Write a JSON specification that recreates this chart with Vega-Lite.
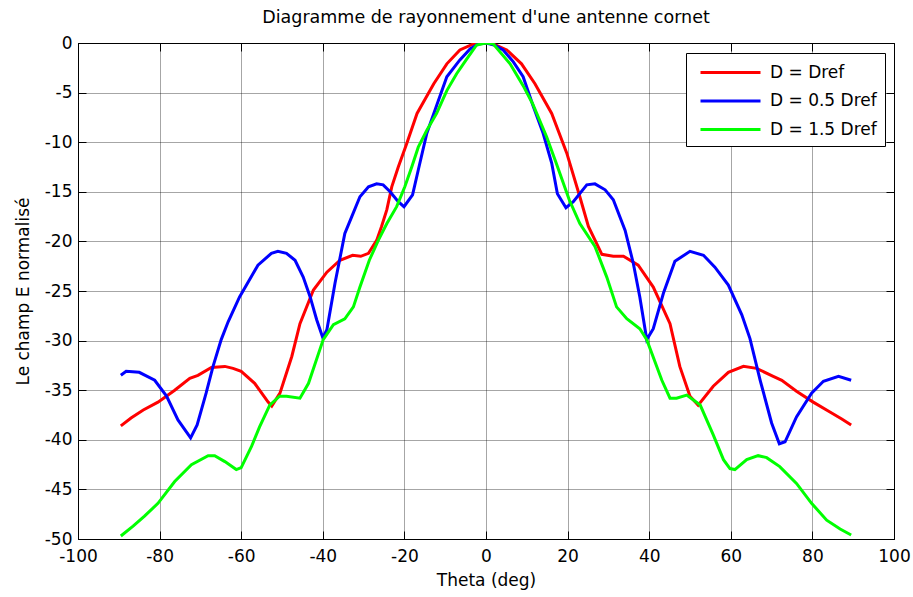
{
  "$schema": "https://vega.github.io/schema/vega-lite/v6.json",
  "autosize": {"type": "none"},
  "width": 816,
  "height": 496,
  "padding": {"left": 78, "top": 43, "right": 19, "bottom": 58},
  "background": "white",
  "title": {"text": "Diagramme de rayonnement d'une antenne cornet", "fontSize": 17.5, "font": "DejaVu Sans", "fontWeight": "normal", "color": "#000", "offset": 8, "anchor": "middle"},
  "config": {
    "view": {"stroke": "#000", "strokeWidth": 1},
    "axis": {"labelFont": "DejaVu Sans", "titleFont": "DejaVu Sans", "labelFontSize": 17, "titleFontSize": 17, "titleFontWeight": "normal", "labelColor": "#000", "titleColor": "#000", "domainColor": "#000", "tickColor": "#000", "gridColor": "#000", "gridDash": [1, 1], "gridOpacity": 0.7, "gridWidth": 1},
    "legend": {"labelFont": "DejaVu Sans"}
  },
  "data": {"values": [
    {"t": -89.5, "v": -38.6, "s": "D = Dref"}, {"t": -87, "v": -37.8, "s": "D = Dref"}, {"t": -84, "v": -37.0, "s": "D = Dref"}, {"t": -80.4, "v": -36.2, "s": "D = Dref"}, {"t": -76.3, "v": -35.0, "s": "D = Dref"}, {"t": -72.6, "v": -33.8, "s": "D = Dref"}, {"t": -70.6, "v": -33.5, "s": "D = Dref"}, {"t": -67.3, "v": -32.7, "s": "D = Dref"}, {"t": -64, "v": -32.6, "s": "D = Dref"}, {"t": -62, "v": -32.8, "s": "D = Dref"}, {"t": -60, "v": -33.1, "s": "D = Dref"}, {"t": -56.7, "v": -34.3, "s": "D = Dref"}, {"t": -53.4, "v": -36.2, "s": "D = Dref"}, {"t": -52.5, "v": -36.6, "s": "D = Dref"}, {"t": -50.5, "v": -35.3, "s": "D = Dref"}, {"t": -47.6, "v": -31.6, "s": "D = Dref"}, {"t": -45.6, "v": -28.3, "s": "D = Dref"}, {"t": -42.3, "v": -24.9, "s": "D = Dref"}, {"t": -39, "v": -23.1, "s": "D = Dref"}, {"t": -35.8, "v": -21.9, "s": "D = Dref"}, {"t": -32.7, "v": -21.4, "s": "D = Dref"}, {"t": -30.7, "v": -21.5, "s": "D = Dref"}, {"t": -28.8, "v": -21.2, "s": "D = Dref"}, {"t": -26.8, "v": -19.9, "s": "D = Dref"}, {"t": -25.6, "v": -18.5, "s": "D = Dref"}, {"t": -24.3, "v": -16.8, "s": "D = Dref"}, {"t": -23.1, "v": -14.5, "s": "D = Dref"}, {"t": -21.5, "v": -12.5, "s": "D = Dref"}, {"t": -19.4, "v": -10.1, "s": "D = Dref"}, {"t": -16.9, "v": -7.1, "s": "D = Dref"}, {"t": -12.8, "v": -4.1, "s": "D = Dref"}, {"t": -9.6, "v": -2.1, "s": "D = Dref"}, {"t": -6.4, "v": -0.7, "s": "D = Dref"}, {"t": -3.1, "v": -0.1, "s": "D = Dref"}, {"t": 0, "v": 0, "s": "D = Dref"}, {"t": 1.8, "v": -0.1, "s": "D = Dref"}, {"t": 5.1, "v": -0.7, "s": "D = Dref"}, {"t": 8.7, "v": -2.1, "s": "D = Dref"}, {"t": 12, "v": -4.1, "s": "D = Dref"}, {"t": 16.1, "v": -7.1, "s": "D = Dref"}, {"t": 19.8, "v": -11.1, "s": "D = Dref"}, {"t": 23, "v": -15.5, "s": "D = Dref"}, {"t": 25.1, "v": -18.5, "s": "D = Dref"}, {"t": 28.4, "v": -21.3, "s": "D = Dref"}, {"t": 31.2, "v": -21.5, "s": "D = Dref"}, {"t": 33.7, "v": -21.5, "s": "D = Dref"}, {"t": 37.3, "v": -22.4, "s": "D = Dref"}, {"t": 41, "v": -24.6, "s": "D = Dref"}, {"t": 45.1, "v": -28.3, "s": "D = Dref"}, {"t": 47.5, "v": -32.6, "s": "D = Dref"}, {"t": 50, "v": -35.6, "s": "D = Dref"}, {"t": 52, "v": -36.5, "s": "D = Dref"}, {"t": 55.7, "v": -34.6, "s": "D = Dref"}, {"t": 59.4, "v": -33.2, "s": "D = Dref"}, {"t": 63.1, "v": -32.6, "s": "D = Dref"}, {"t": 66.3, "v": -32.8, "s": "D = Dref"}, {"t": 70.4, "v": -33.6, "s": "D = Dref"}, {"t": 72.5, "v": -34.0, "s": "D = Dref"}, {"t": 76.1, "v": -35.1, "s": "D = Dref"}, {"t": 80.2, "v": -36.2, "s": "D = Dref"}, {"t": 84.3, "v": -37.2, "s": "D = Dref"}, {"t": 87.2, "v": -37.9, "s": "D = Dref"}, {"t": 89.5, "v": -38.5, "s": "D = Dref"},
    {"t": -89.5, "v": -33.5, "s": "D = 0.5 Dref"}, {"t": -88.2, "v": -33.1, "s": "D = 0.5 Dref"}, {"t": -85, "v": -33.2, "s": "D = 0.5 Dref"}, {"t": -81.2, "v": -34.0, "s": "D = 0.5 Dref"}, {"t": -78.3, "v": -35.6, "s": "D = 0.5 Dref"}, {"t": -75.5, "v": -38.0, "s": "D = 0.5 Dref"}, {"t": -72.4, "v": -39.8, "s": "D = 0.5 Dref"}, {"t": -70.8, "v": -38.5, "s": "D = 0.5 Dref"}, {"t": -68.6, "v": -35.3, "s": "D = 0.5 Dref"}, {"t": -66.9, "v": -32.6, "s": "D = 0.5 Dref"}, {"t": -64.9, "v": -29.9, "s": "D = 0.5 Dref"}, {"t": -63.2, "v": -28.1, "s": "D = 0.5 Dref"}, {"t": -60.4, "v": -25.6, "s": "D = 0.5 Dref"}, {"t": -55.9, "v": -22.4, "s": "D = 0.5 Dref"}, {"t": -52.6, "v": -21.2, "s": "D = 0.5 Dref"}, {"t": -51, "v": -21.0, "s": "D = 0.5 Dref"}, {"t": -48.9, "v": -21.2, "s": "D = 0.5 Dref"}, {"t": -46.8, "v": -21.9, "s": "D = 0.5 Dref"}, {"t": -44.8, "v": -23.6, "s": "D = 0.5 Dref"}, {"t": -43.1, "v": -25.6, "s": "D = 0.5 Dref"}, {"t": -41.5, "v": -27.9, "s": "D = 0.5 Dref"}, {"t": -40, "v": -29.7, "s": "D = 0.5 Dref"}, {"t": -39, "v": -28.9, "s": "D = 0.5 Dref"}, {"t": -37, "v": -24.2, "s": "D = 0.5 Dref"}, {"t": -34.6, "v": -19.2, "s": "D = 0.5 Dref"}, {"t": -32.9, "v": -17.5, "s": "D = 0.5 Dref"}, {"t": -30.9, "v": -15.5, "s": "D = 0.5 Dref"}, {"t": -28.8, "v": -14.5, "s": "D = 0.5 Dref"}, {"t": -26.8, "v": -14.2, "s": "D = 0.5 Dref"}, {"t": -25.2, "v": -14.3, "s": "D = 0.5 Dref"}, {"t": -23.5, "v": -15.0, "s": "D = 0.5 Dref"}, {"t": -21.5, "v": -16.0, "s": "D = 0.5 Dref"}, {"t": -20.1, "v": -16.5, "s": "D = 0.5 Dref"}, {"t": -18, "v": -15.3, "s": "D = 0.5 Dref"}, {"t": -16.6, "v": -12.8, "s": "D = 0.5 Dref"}, {"t": -14.5, "v": -9.1, "s": "D = 0.5 Dref"}, {"t": -12.1, "v": -6.3, "s": "D = 0.5 Dref"}, {"t": -9.6, "v": -3.4, "s": "D = 0.5 Dref"}, {"t": -6.4, "v": -1.7, "s": "D = 0.5 Dref"}, {"t": -3.9, "v": -0.6, "s": "D = 0.5 Dref"}, {"t": -1.9, "v": -0.1, "s": "D = 0.5 Dref"}, {"t": 0, "v": 0, "s": "D = 0.5 Dref"}, {"t": 2, "v": -0.2, "s": "D = 0.5 Dref"}, {"t": 4.2, "v": -0.7, "s": "D = 0.5 Dref"}, {"t": 6.7, "v": -1.9, "s": "D = 0.5 Dref"}, {"t": 9.1, "v": -3.4, "s": "D = 0.5 Dref"}, {"t": 11.6, "v": -6.4, "s": "D = 0.5 Dref"}, {"t": 14, "v": -9.1, "s": "D = 0.5 Dref"}, {"t": 16.1, "v": -12.1, "s": "D = 0.5 Dref"}, {"t": 17.5, "v": -15.2, "s": "D = 0.5 Dref"}, {"t": 19.6, "v": -16.6, "s": "D = 0.5 Dref"}, {"t": 21.4, "v": -16.0, "s": "D = 0.5 Dref"}, {"t": 24.7, "v": -14.3, "s": "D = 0.5 Dref"}, {"t": 26.7, "v": -14.2, "s": "D = 0.5 Dref"}, {"t": 29.2, "v": -14.8, "s": "D = 0.5 Dref"}, {"t": 31.2, "v": -15.8, "s": "D = 0.5 Dref"}, {"t": 34.1, "v": -18.9, "s": "D = 0.5 Dref"}, {"t": 36.1, "v": -22.2, "s": "D = 0.5 Dref"}, {"t": 37.7, "v": -25.6, "s": "D = 0.5 Dref"}, {"t": 39.4, "v": -29.9, "s": "D = 0.5 Dref"}, {"t": 41, "v": -28.8, "s": "D = 0.5 Dref"}, {"t": 43.5, "v": -25.2, "s": "D = 0.5 Dref"}, {"t": 46.3, "v": -22.0, "s": "D = 0.5 Dref"}, {"t": 50, "v": -21.0, "s": "D = 0.5 Dref"}, {"t": 53.3, "v": -21.4, "s": "D = 0.5 Dref"}, {"t": 56.1, "v": -22.6, "s": "D = 0.5 Dref"}, {"t": 59.4, "v": -24.4, "s": "D = 0.5 Dref"}, {"t": 62.7, "v": -27.4, "s": "D = 0.5 Dref"}, {"t": 64.7, "v": -29.8, "s": "D = 0.5 Dref"}, {"t": 67.2, "v": -34.0, "s": "D = 0.5 Dref"}, {"t": 70, "v": -38.3, "s": "D = 0.5 Dref"}, {"t": 71.9, "v": -40.4, "s": "D = 0.5 Dref"}, {"t": 73.3, "v": -40.2, "s": "D = 0.5 Dref"}, {"t": 76.1, "v": -37.7, "s": "D = 0.5 Dref"}, {"t": 79.8, "v": -35.3, "s": "D = 0.5 Dref"}, {"t": 82.7, "v": -34.1, "s": "D = 0.5 Dref"}, {"t": 86.4, "v": -33.6, "s": "D = 0.5 Dref"}, {"t": 89.5, "v": -34.0, "s": "D = 0.5 Dref"},
    {"t": -89.5, "v": -49.7, "s": "D = 1.5 Dref"}, {"t": -86.5, "v": -48.7, "s": "D = 1.5 Dref"}, {"t": -83.7, "v": -47.7, "s": "D = 1.5 Dref"}, {"t": -80.4, "v": -46.4, "s": "D = 1.5 Dref"}, {"t": -76.3, "v": -44.2, "s": "D = 1.5 Dref"}, {"t": -72.2, "v": -42.5, "s": "D = 1.5 Dref"}, {"t": -68.1, "v": -41.6, "s": "D = 1.5 Dref"}, {"t": -66.5, "v": -41.6, "s": "D = 1.5 Dref"}, {"t": -64, "v": -42.2, "s": "D = 1.5 Dref"}, {"t": -61.2, "v": -43.0, "s": "D = 1.5 Dref"}, {"t": -60, "v": -42.8, "s": "D = 1.5 Dref"}, {"t": -57.5, "v": -40.7, "s": "D = 1.5 Dref"}, {"t": -55.5, "v": -38.7, "s": "D = 1.5 Dref"}, {"t": -53, "v": -36.5, "s": "D = 1.5 Dref"}, {"t": -50.6, "v": -35.6, "s": "D = 1.5 Dref"}, {"t": -48.9, "v": -35.6, "s": "D = 1.5 Dref"}, {"t": -45.6, "v": -35.8, "s": "D = 1.5 Dref"}, {"t": -43.5, "v": -34.3, "s": "D = 1.5 Dref"}, {"t": -39.9, "v": -29.9, "s": "D = 1.5 Dref"}, {"t": -37.4, "v": -28.4, "s": "D = 1.5 Dref"}, {"t": -34.6, "v": -27.8, "s": "D = 1.5 Dref"}, {"t": -32.5, "v": -26.6, "s": "D = 1.5 Dref"}, {"t": -30.9, "v": -24.6, "s": "D = 1.5 Dref"}, {"t": -28.6, "v": -21.9, "s": "D = 1.5 Dref"}, {"t": -26.4, "v": -19.9, "s": "D = 1.5 Dref"}, {"t": -24.3, "v": -18.2, "s": "D = 1.5 Dref"}, {"t": -21.9, "v": -16.5, "s": "D = 1.5 Dref"}, {"t": -19.9, "v": -14.5, "s": "D = 1.5 Dref"}, {"t": -18.2, "v": -12.5, "s": "D = 1.5 Dref"}, {"t": -16.6, "v": -10.5, "s": "D = 1.5 Dref"}, {"t": -14.5, "v": -8.8, "s": "D = 1.5 Dref"}, {"t": -12.1, "v": -7.1, "s": "D = 1.5 Dref"}, {"t": -9.6, "v": -4.8, "s": "D = 1.5 Dref"}, {"t": -7.2, "v": -3.1, "s": "D = 1.5 Dref"}, {"t": -4.7, "v": -1.6, "s": "D = 1.5 Dref"}, {"t": -2.3, "v": -0.2, "s": "D = 1.5 Dref"}, {"t": 0, "v": 0, "s": "D = 1.5 Dref"}, {"t": 1.8, "v": -0.1, "s": "D = 1.5 Dref"}, {"t": 5.9, "v": -2.1, "s": "D = 1.5 Dref"}, {"t": 9.1, "v": -4.3, "s": "D = 1.5 Dref"}, {"t": 11.4, "v": -6.1, "s": "D = 1.5 Dref"}, {"t": 14.9, "v": -9.5, "s": "D = 1.5 Dref"}, {"t": 17.2, "v": -12.1, "s": "D = 1.5 Dref"}, {"t": 20.4, "v": -15.8, "s": "D = 1.5 Dref"}, {"t": 23, "v": -18.2, "s": "D = 1.5 Dref"}, {"t": 26.7, "v": -20.5, "s": "D = 1.5 Dref"}, {"t": 29.6, "v": -23.6, "s": "D = 1.5 Dref"}, {"t": 32, "v": -26.6, "s": "D = 1.5 Dref"}, {"t": 34.5, "v": -27.8, "s": "D = 1.5 Dref"}, {"t": 37.7, "v": -28.8, "s": "D = 1.5 Dref"}, {"t": 39.4, "v": -29.9, "s": "D = 1.5 Dref"}, {"t": 43.1, "v": -34.0, "s": "D = 1.5 Dref"}, {"t": 45.1, "v": -35.8, "s": "D = 1.5 Dref"}, {"t": 46.7, "v": -35.8, "s": "D = 1.5 Dref"}, {"t": 49.2, "v": -35.5, "s": "D = 1.5 Dref"}, {"t": 52.5, "v": -36.5, "s": "D = 1.5 Dref"}, {"t": 55.7, "v": -39.5, "s": "D = 1.5 Dref"}, {"t": 58.2, "v": -42.0, "s": "D = 1.5 Dref"}, {"t": 59.8, "v": -42.9, "s": "D = 1.5 Dref"}, {"t": 61, "v": -43.0, "s": "D = 1.5 Dref"}, {"t": 63.9, "v": -42.0, "s": "D = 1.5 Dref"}, {"t": 66.7, "v": -41.6, "s": "D = 1.5 Dref"}, {"t": 68.8, "v": -41.8, "s": "D = 1.5 Dref"}, {"t": 72, "v": -42.7, "s": "D = 1.5 Dref"}, {"t": 76.1, "v": -44.4, "s": "D = 1.5 Dref"}, {"t": 79.8, "v": -46.4, "s": "D = 1.5 Dref"}, {"t": 83.5, "v": -48.1, "s": "D = 1.5 Dref"}, {"t": 86.8, "v": -49.0, "s": "D = 1.5 Dref"}, {"t": 89.5, "v": -49.6, "s": "D = 1.5 Dref"}
  ]},
  "layer": [
    {
      "mark": {"type": "line", "strokeWidth": 3, "clip": true},
      "encoding": {
        "x": {"field": "t", "type": "quantitative", "scale": {"domain": [-100, 100], "nice": false, "zero": false},
              "axis": {"title": "Theta (deg)", "values": [-100, -80, -60, -40, -20, 0, 20, 40, 60, 80, 100], "labelExpr": "'' + datum.value", "grid": true, "tickSize": -8, "labelPadding": 17, "titlePadding": 8, "labelFlush": false}},
        "y": {"field": "v", "type": "quantitative", "scale": {"domain": [-50, 0], "nice": false, "zero": false},
              "axis": {"title": "Le champ E normalisé", "values": [-50, -45, -40, -35, -30, -25, -20, -15, -10, -5, 0], "labelExpr": "'' + datum.value", "grid": true, "tickSize": -8, "labelPadding": 14, "titlePadding": 12, "labelFlush": false}},
        "color": {"field": "s", "type": "nominal",
                  "scale": {"domain": ["D = Dref", "D = 0.5 Dref", "D = 1.5 Dref"], "range": ["#ff0000", "#0000ff", "#00ff00"]},
                  "legend": {"title": null, "orient": "none", "legendX": 608, "legendY": 10, "fillColor": "white", "strokeColor": "#000", "padding": 8, "symbolType": "M-0.5,0H5.5", "symbolSize": 400, "symbolStrokeWidth": 3, "labelOffset": 53, "labelFontSize": 17, "labelColor": "#000", "rowPadding": 8.5, "cornerRadius": 0}},
        "detail": {"field": "s"}
      }
    },
    {
      "mark": {"type": "point", "opacity": 0},
      "encoding": {
        "x": {"field": "t", "type": "quantitative", "axis": {"orient": "top", "title": null, "labels": false, "grid": false, "domain": false, "tickSize": -8, "values": [-100, -80, -60, -40, -20, 0, 20, 40, 60, 80, 100]}},
        "y": {"field": "v", "type": "quantitative", "axis": {"orient": "right", "title": null, "labels": false, "grid": false, "domain": false, "tickSize": -8, "values": [-50, -45, -40, -35, -30, -25, -20, -15, -10, -5, 0]}}
      }
    }
  ],
  "resolve": {"axis": {"x": "independent", "y": "independent"}}
}
